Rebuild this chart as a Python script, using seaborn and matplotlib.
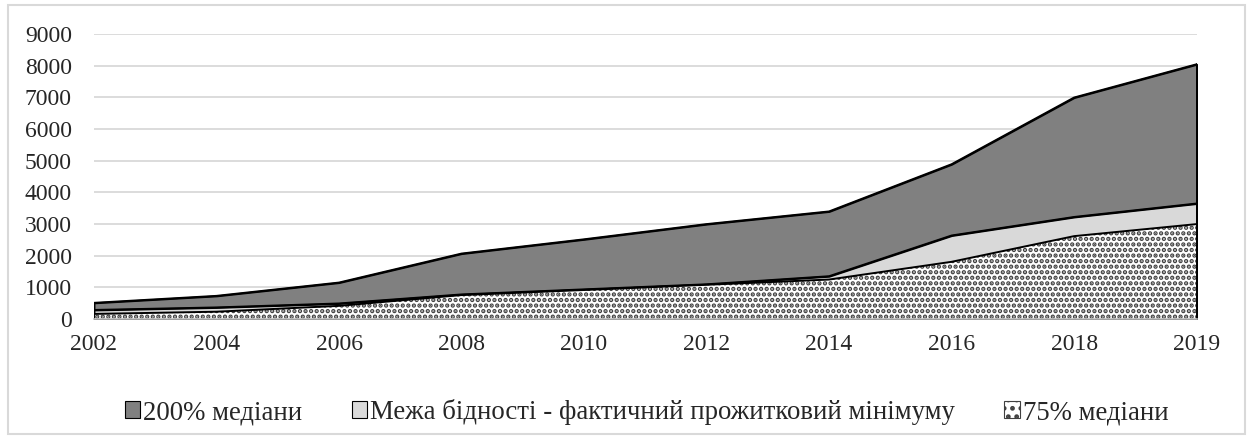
import matplotlib
matplotlib.use("Agg")
import matplotlib.pyplot as plt
import matplotlib.patches as mpatches
import seaborn as sns
import pandas as pd
import numpy as np

years = ["2002", "2004", "2006", "2008", "2010", "2012", "2014", "2016", "2018", "2019"]
median_200 = [515, 735, 1155, 2070, 2520, 3000, 3400, 4890, 6995, 8045]
poverty_line = [290, 370, 495, 780, 940, 1100, 1355, 2640, 3225, 3650]
median_75 = [165, 235, 420, 760, 920, 1085, 1250, 1810, 2620, 3000]

names = ["200% медіани", "Межа бідності - фактичний прожитковий мінімуму", "75% медіани"]

sns.set_style("white")
plt.rcParams["font.family"] = ["Liberation Serif", "DejaVu Serif"]
plt.rcParams["hatch.linewidth"] = 2.2

df = pd.DataFrame({"year": years, names[0]: median_200, names[1]: poverty_line, names[2]: median_75})
df["x"] = np.arange(len(df))

fig = plt.figure(figsize=(12.53, 4.36), dpi=100)
ax = fig.add_axes([0.075, 0.268, 0.88, 0.654])

# filled areas, each one from zero (overlapping, not stacked)
ax.fill_between(df["x"], df[names[0]], color="#808080", edgecolor="black", linewidth=1.4, zorder=2)
ax.fill_between(df["x"], df[names[1]], color="#d9d9d9", edgecolor="black", linewidth=1.4, zorder=3)
ax.fill_between(df["x"], df[names[2]], facecolor="white", edgecolor="#404040", hatch="...", linewidth=0, zorder=4)
for col in names:
    sns.lineplot(data=df, x="x", y=col, color="black", linewidth=1.4, ax=ax, zorder=5)
ax.plot([9, 9], [0, median_200[-1]], color="black", linewidth=1.4, zorder=5)
ax.plot([0, 0], [0, median_200[0]], color="black", linewidth=1.4, zorder=5)

ax.set_xlim(0, len(years) - 1)
ax.set_ylim(0, 9000)
ax.set_yticks(range(0, 9001, 1000))
ax.set_xticks(df["x"])
ax.set_xticklabels(years)
ax.set_xlabel("")
ax.set_ylabel("")
ax.yaxis.grid(True, color="#d9d9d9", linewidth=1.3, zorder=0)
ax.set_axisbelow(True)
for s in ["top", "right", "left"]:
    ax.spines[s].set_visible(False)
ax.spines["bottom"].set_color("#bfbfbf")
ax.spines["bottom"].set_linewidth(1.2)
ax.spines["bottom"].set_zorder(6)
ax.tick_params(axis="x", direction="out", length=5, color="#bfbfbf", width=1.2, labelsize=17, pad=6)
ax.tick_params(axis="y", length=0, labelsize=17, pad=16)

handles = [
    mpatches.Patch(facecolor="#808080", edgecolor="black", linewidth=0.8),
    mpatches.Patch(facecolor="#d9d9d9", edgecolor="black", linewidth=0.8),
    mpatches.Patch(facecolor="white", edgecolor="#404040", hatch="..", linewidth=0.8),
]
fig.legend(handles, names, loc="center", bbox_to_anchor=(0.516, 0.055), ncol=3, frameon=False,
           fontsize=19.3, handlelength=0.58, handleheight=0.58, handletextpad=0.1, columnspacing=1.85)

fig.add_artist(mpatches.Rectangle((0.006, 0.005), 0.988, 0.983, transform=fig.transFigure,
                                  fill=False, edgecolor="#d9d9d9", linewidth=1.5))

fig.savefig("out.png", dpi=100)
